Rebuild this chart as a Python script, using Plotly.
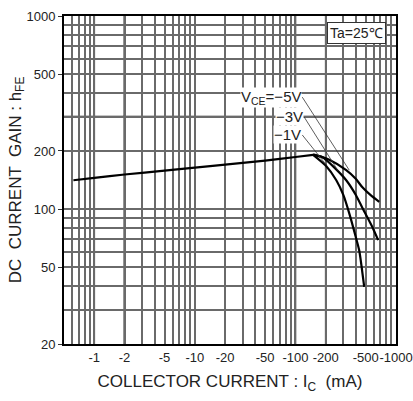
import math
import plotly.graph_objects as go

# ---- data ----
common_x = [0.62, 1, 2, 5, 10, 20, 50, 100, 150]
common_y = [141, 145, 151, 158, 164, 170, 178, 186, 191]

v1_x = [150, 200, 255, 300, 343, 400, 431, 483]
v1_y = [191, 168, 141, 118, 95, 71, 61, 39.5]

v3_x = [150, 185, 250, 320, 400, 461, 580, 665]
v3_y = [191, 186, 162, 141, 118, 102, 81, 69]

v5_x = [150, 217, 320, 400, 461, 560, 681]
v5_y = [192, 180, 159, 143, 130, 118, 109]

x_tickvals = [1, 2, 5, 10, 20, 50, 100, 200, 500, 1000]
x_ticktext = ["-1", "-2", "-5", "-10", "-20", "-50", "-100", "-200", "-500", "-1000"]
y_tickvals = [20, 50, 100, 200, 500, 1000]
y_ticktext = ["20", "50", "100", "200", "500", "1000"]

x_minor = [m * d for d in [0.1, 1, 10, 100] for m in range(1, 10)] + [1000]
y_minor = [m * d for d in [10, 100] for m in range(1, 10)] + [1000]

x_dark = [1, 2, 20, 100, 200]
y_dark = [50, 100, 300]

labels = ["V<sub>CE</sub>=−5V", "−3V", "−1V"]
label_pos = [(117, 380), (122, 300), (117, 242)]
leader_end = [(343, 159), (265, 158), (205, 168)]

FONT = "Arial, Liberation Sans, sans-serif"
fig = go.Figure()

line_style = dict(color="black", width=2.2, shape="spline", smoothing=0.6)
fig.add_trace(go.Scatter(x=common_x, y=common_y, mode="lines", line=line_style, hoverinfo="skip"))
for xs, ys in [(v1_x, v1_y), (v3_x, v3_y), (v5_x, v5_y)]:
    fig.add_trace(go.Scatter(x=xs, y=ys, mode="lines", line=line_style, hoverinfo="skip"))

# leader lines
for (sx, sy), (ex, ey) in zip(label_pos, leader_end):
    fig.add_trace(go.Scatter(x=[sx, ex], y=[sy, ey], mode="lines",
                             line=dict(color="#333", width=0.8), hoverinfo="skip"))

for txt, (lx, ly) in zip(labels, label_pos):
    fig.add_annotation(x=math.log10(lx), y=math.log10(ly),
                       xref="x", yref="y", text=txt, showarrow=False,
                       xanchor="right", yanchor="middle",
                       font=dict(size=15, color="#222", family=FONT),
                       bgcolor="white", borderpad=0)

# darker grid lines
shapes = []
for xv in x_dark:
    shapes.append(dict(type="line", xref="x", yref="paper", x0=xv, x1=xv, y0=0, y1=1,
                       line=dict(color="#1a1a1a", width=2 if xv == 2 else 1.6), layer="below"))
for yv in y_dark:
    shapes.append(dict(type="line", xref="paper", yref="y", x0=0, x1=1, y0=yv, y1=yv,
                       line=dict(color="#1a1a1a", width=2.2 if yv == 300 else 1.6), layer="below"))
fig.update_layout(shapes=shapes)

fig.add_annotation(x=0.97, y=0.982, xref="paper", yref="paper", text="Ta=25℃",
                   showarrow=False, xanchor="right", yanchor="top",
                   font=dict(size=14, color="#222", family=FONT),
                   bgcolor="white", bordercolor="#333", borderwidth=1, borderpad=2)

GRID = "#6a6a6a"
fig.update_xaxes(type="log", range=[math.log10(0.5), math.log10(1000)],
                 tickvals=x_tickvals, ticktext=x_ticktext, tickangle=0, automargin=False,
                 showgrid=True, gridcolor=GRID, gridwidth=1.5,
                 minor=dict(tickvals=x_minor, showgrid=True, gridcolor=GRID, gridwidth=1.5, ticks=""),
                 showline=True, linecolor="black", linewidth=2, mirror=True,
                 ticks="", tickfont=dict(size=13, color="#222", family=FONT),
                 title=dict(text="COLLECTOR CURRENT : I<sub>C</sub>  (mA)", standoff=12,
                            font=dict(size=17, color="#222", family=FONT)),
                 zeroline=False)
fig.update_yaxes(type="log", range=[math.log10(20), math.log10(1000)],
                 tickvals=y_tickvals, ticktext=y_ticktext, automargin=False,
                 showgrid=True, gridcolor=GRID, gridwidth=1.5,
                 minor=dict(tickvals=y_minor, showgrid=True, gridcolor=GRID, gridwidth=1.5, ticks=""),
                 showline=True, linecolor="black", linewidth=2, mirror=True,
                 ticks="outside", ticklen=4, tickcolor="#333",
                 tickfont=dict(size=13, color="#222", family=FONT),
                 title=dict(text="DC  CURRENT  GAIN : h<sub>FE</sub>", standoff=1,
                            font=dict(size=17, color="#222", family=FONT)),
                 zeroline=False)

fig.update_layout(width=413, height=401, margin=dict(l=64, r=17, t=16, b=57),
                  paper_bgcolor="white", plot_bgcolor="white", showlegend=False)

fig.write_html("out.html")
